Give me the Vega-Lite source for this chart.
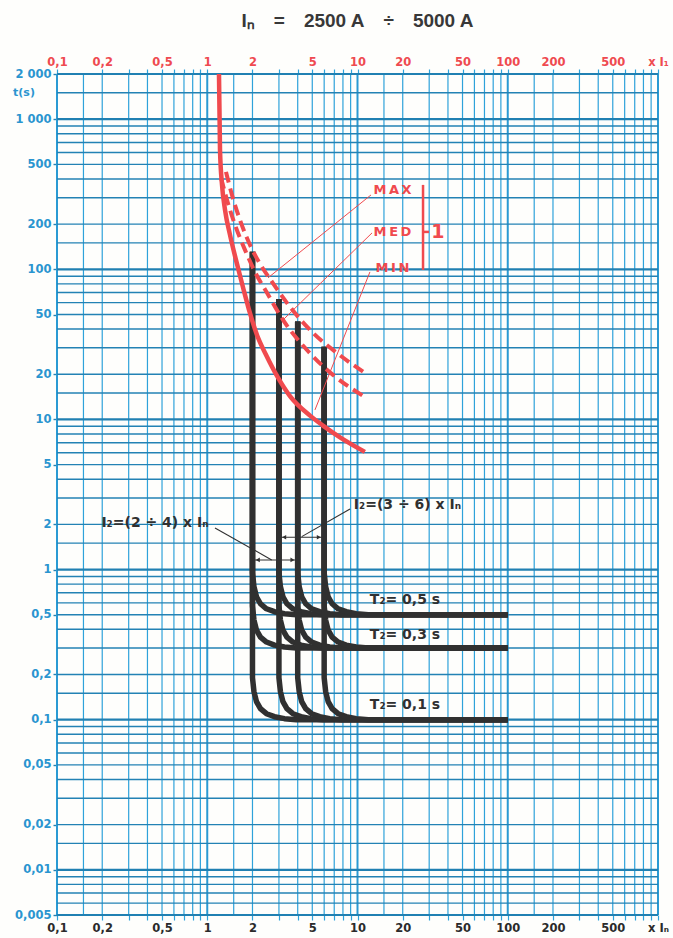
{
  "$schema": "https://vega.github.io/schema/vega-lite/v6.json",
  "width": 601,
  "height": 841,
  "autosize": {"type": "none"},
  "padding": {"left": 57, "top": 74, "right": 15, "bottom": 23},
  "background": "#fefefc",
  "view": {"stroke": null},
  "title": {"text": "Iₙ\u2003=\u20032500 A\u2003÷\u20035000 A", "font": "Liberation Sans", "fontSize": 19, "fontWeight": "bold", "color": "#383838", "offset": 25},
  "datasets": {
    "gx": [{"v":0.15},{"v":0.2},{"v":0.3},{"v":0.4},{"v":0.5},{"v":0.6},{"v":0.7},{"v":0.8},{"v":0.9},{"v":1.5},{"v":2},{"v":3},{"v":4},{"v":5},{"v":6},{"v":7},{"v":8},{"v":9},{"v":15},{"v":20},{"v":30},{"v":40},{"v":50},{"v":60},{"v":70},{"v":80},{"v":90},{"v":150},{"v":200},{"v":300},{"v":400},{"v":500},{"v":600},{"v":700},{"v":800},{"v":900}],
    "gxd": [{"v":0.1},{"v":1},{"v":10},{"v":100},{"v":1000}],
    "gy": [{"v":0.006},{"v":0.007},{"v":0.008},{"v":0.009},{"v":0.015},{"v":0.02},{"v":0.03},{"v":0.04},{"v":0.05},{"v":0.06},{"v":0.07},{"v":0.08},{"v":0.09},{"v":0.15},{"v":0.2},{"v":0.3},{"v":0.4},{"v":0.5},{"v":0.6},{"v":0.7},{"v":0.8},{"v":0.9},{"v":1.5},{"v":2},{"v":3},{"v":4},{"v":5},{"v":6},{"v":7},{"v":8},{"v":9},{"v":15},{"v":20},{"v":30},{"v":40},{"v":50},{"v":60},{"v":70},{"v":80},{"v":90},{"v":150},{"v":200},{"v":300},{"v":400},{"v":500},{"v":600},{"v":700},{"v":800},{"v":900},{"v":1500}],
    "gyd": [{"v":0.005},{"v":0.01},{"v":0.1},{"v":1},{"v":10},{"v":100},{"v":1000},{"v":2000}],
    "black": [
      {"c":"2/0.5","i":0,"x":2,"t":131},{"c":"2/0.5","i":1,"x":2,"t":0.953},{"c":"2/0.5","i":2,"x":2.046,"t":0.769},{"c":"2/0.5","i":3,"x":2.126,"t":0.659},{"c":"2/0.5","i":4,"x":2.26,"t":0.592},{"c":"2/0.5","i":5,"x":2.478,"t":0.548},{"c":"2/0.5","i":6,"x":2.802,"t":0.524},{"c":"2/0.5","i":7,"x":3.266,"t":0.508},{"c":"2/0.5","i":8,"x":3.926,"t":0.5},{"c":"2/0.5","i":9,"x":100,"t":0.5},
      {"c":"2/0.3","i":0,"x":2,"t":131},{"c":"2/0.3","i":1,"x":2,"t":0.572},{"c":"2/0.3","i":2,"x":2.046,"t":0.461},{"c":"2/0.3","i":3,"x":2.126,"t":0.395},{"c":"2/0.3","i":4,"x":2.26,"t":0.355},{"c":"2/0.3","i":5,"x":2.478,"t":0.329},{"c":"2/0.3","i":6,"x":2.802,"t":0.314},{"c":"2/0.3","i":7,"x":3.266,"t":0.305},{"c":"2/0.3","i":8,"x":3.926,"t":0.3},{"c":"2/0.3","i":9,"x":100,"t":0.3},
      {"c":"2/0.1","i":0,"x":2,"t":131},{"c":"2/0.1","i":1,"x":2,"t":0.1905},{"c":"2/0.1","i":2,"x":2.046,"t":0.1537},{"c":"2/0.1","i":3,"x":2.126,"t":0.1318},{"c":"2/0.1","i":4,"x":2.26,"t":0.1184},{"c":"2/0.1","i":5,"x":2.478,"t":0.1096},{"c":"2/0.1","i":6,"x":2.802,"t":0.1047},{"c":"2/0.1","i":7,"x":3.266,"t":0.1016},{"c":"2/0.1","i":8,"x":3.926,"t":0.1},{"c":"2/0.1","i":9,"x":100,"t":0.1},
      {"c":"3/0.5","i":0,"x":3,"t":63.5},{"c":"3/0.5","i":1,"x":3,"t":0.953},{"c":"3/0.5","i":2,"x":3.069,"t":0.769},{"c":"3/0.5","i":3,"x":3.189,"t":0.659},{"c":"3/0.5","i":4,"x":3.39,"t":0.592},{"c":"3/0.5","i":5,"x":3.717,"t":0.548},{"c":"3/0.5","i":6,"x":4.203,"t":0.524},{"c":"3/0.5","i":7,"x":4.899,"t":0.508},{"c":"3/0.5","i":8,"x":5.889,"t":0.5},{"c":"3/0.5","i":9,"x":100,"t":0.5},
      {"c":"3/0.3","i":0,"x":3,"t":63.5},{"c":"3/0.3","i":1,"x":3,"t":0.572},{"c":"3/0.3","i":2,"x":3.069,"t":0.461},{"c":"3/0.3","i":3,"x":3.189,"t":0.395},{"c":"3/0.3","i":4,"x":3.39,"t":0.355},{"c":"3/0.3","i":5,"x":3.717,"t":0.329},{"c":"3/0.3","i":6,"x":4.203,"t":0.314},{"c":"3/0.3","i":7,"x":4.899,"t":0.305},{"c":"3/0.3","i":8,"x":5.889,"t":0.3},{"c":"3/0.3","i":9,"x":100,"t":0.3},
      {"c":"3/0.1","i":0,"x":3,"t":63.5},{"c":"3/0.1","i":1,"x":3,"t":0.1905},{"c":"3/0.1","i":2,"x":3.069,"t":0.1537},{"c":"3/0.1","i":3,"x":3.189,"t":0.1318},{"c":"3/0.1","i":4,"x":3.39,"t":0.1184},{"c":"3/0.1","i":5,"x":3.717,"t":0.1096},{"c":"3/0.1","i":6,"x":4.203,"t":0.1047},{"c":"3/0.1","i":7,"x":4.899,"t":0.1016},{"c":"3/0.1","i":8,"x":5.889,"t":0.1},{"c":"3/0.1","i":9,"x":100,"t":0.1},
      {"c":"4/0.5","i":0,"x":4,"t":45},{"c":"4/0.5","i":1,"x":4,"t":0.953},{"c":"4/0.5","i":2,"x":4.092,"t":0.769},{"c":"4/0.5","i":3,"x":4.252,"t":0.659},{"c":"4/0.5","i":4,"x":4.52,"t":0.592},{"c":"4/0.5","i":5,"x":4.956,"t":0.548},{"c":"4/0.5","i":6,"x":5.604,"t":0.524},{"c":"4/0.5","i":7,"x":6.532,"t":0.508},{"c":"4/0.5","i":8,"x":7.852,"t":0.5},{"c":"4/0.5","i":9,"x":100,"t":0.5},
      {"c":"4/0.3","i":0,"x":4,"t":45},{"c":"4/0.3","i":1,"x":4,"t":0.572},{"c":"4/0.3","i":2,"x":4.092,"t":0.461},{"c":"4/0.3","i":3,"x":4.252,"t":0.395},{"c":"4/0.3","i":4,"x":4.52,"t":0.355},{"c":"4/0.3","i":5,"x":4.956,"t":0.329},{"c":"4/0.3","i":6,"x":5.604,"t":0.314},{"c":"4/0.3","i":7,"x":6.532,"t":0.305},{"c":"4/0.3","i":8,"x":7.852,"t":0.3},{"c":"4/0.3","i":9,"x":100,"t":0.3},
      {"c":"4/0.1","i":0,"x":4,"t":45},{"c":"4/0.1","i":1,"x":4,"t":0.1905},{"c":"4/0.1","i":2,"x":4.092,"t":0.1537},{"c":"4/0.1","i":3,"x":4.252,"t":0.1318},{"c":"4/0.1","i":4,"x":4.52,"t":0.1184},{"c":"4/0.1","i":5,"x":4.956,"t":0.1096},{"c":"4/0.1","i":6,"x":5.604,"t":0.1047},{"c":"4/0.1","i":7,"x":6.532,"t":0.1016},{"c":"4/0.1","i":8,"x":7.852,"t":0.1},{"c":"4/0.1","i":9,"x":100,"t":0.1},
      {"c":"6/0.5","i":0,"x":6,"t":30.5},{"c":"6/0.5","i":1,"x":6,"t":0.953},{"c":"6/0.5","i":2,"x":6.138,"t":0.769},{"c":"6/0.5","i":3,"x":6.378,"t":0.659},{"c":"6/0.5","i":4,"x":6.78,"t":0.592},{"c":"6/0.5","i":5,"x":7.434,"t":0.548},{"c":"6/0.5","i":6,"x":8.406,"t":0.524},{"c":"6/0.5","i":7,"x":9.798,"t":0.508},{"c":"6/0.5","i":8,"x":11.778,"t":0.5},{"c":"6/0.5","i":9,"x":100,"t":0.5},
      {"c":"6/0.3","i":0,"x":6,"t":30.5},{"c":"6/0.3","i":1,"x":6,"t":0.572},{"c":"6/0.3","i":2,"x":6.138,"t":0.461},{"c":"6/0.3","i":3,"x":6.378,"t":0.395},{"c":"6/0.3","i":4,"x":6.78,"t":0.355},{"c":"6/0.3","i":5,"x":7.434,"t":0.329},{"c":"6/0.3","i":6,"x":8.406,"t":0.314},{"c":"6/0.3","i":7,"x":9.798,"t":0.305},{"c":"6/0.3","i":8,"x":11.778,"t":0.3},{"c":"6/0.3","i":9,"x":100,"t":0.3},
      {"c":"6/0.1","i":0,"x":6,"t":30.5},{"c":"6/0.1","i":1,"x":6,"t":0.1905},{"c":"6/0.1","i":2,"x":6.138,"t":0.1537},{"c":"6/0.1","i":3,"x":6.378,"t":0.1318},{"c":"6/0.1","i":4,"x":6.78,"t":0.1184},{"c":"6/0.1","i":5,"x":7.434,"t":0.1096},{"c":"6/0.1","i":6,"x":8.406,"t":0.1047},{"c":"6/0.1","i":7,"x":9.798,"t":0.1016},{"c":"6/0.1","i":8,"x":11.778,"t":0.1},{"c":"6/0.1","i":9,"x":100,"t":0.1}
    ],
    "red": [
      {"s":"MIN","i":0,"x":1.197,"t":2000},{"s":"MIN","i":1,"x":1.216,"t":624},{"s":"MIN","i":2,"x":1.254,"t":365},{"s":"MIN","i":3,"x":1.313,"t":249},{"s":"MIN","i":4,"x":1.417,"t":169.6},{"s":"MIN","i":5,"x":1.553,"t":115.6},{"s":"MIN","i":6,"x":1.729,"t":76},{"s":"MIN","i":7,"x":1.925,"t":51},{"s":"MIN","i":8,"x":2.143,"t":36.5},{"s":"MIN","i":9,"x":2.46,"t":27},{"s":"MIN","i":10,"x":2.957,"t":19},{"s":"MIN","i":11,"x":3.553,"t":14.3},{"s":"MIN","i":12,"x":4.83,"t":10.6},{"s":"MIN","i":13,"x":5.89,"t":9.1},{"s":"MIN","i":14,"x":7.65,"t":7.6},{"s":"MIN","i":15,"x":11.2,"t":6.08},
      {"s":"MED","i":0,"x":1.235,"t":406},{"s":"MED","i":1,"x":1.353,"t":290},{"s":"MED","i":2,"x":1.53,"t":197.7},{"s":"MED","i":3,"x":1.783,"t":134.7},{"s":"MED","i":4,"x":2.078,"t":96.1},{"s":"MED","i":5,"x":2.498,"t":69.7},{"s":"MED","i":6,"x":3.193,"t":46},{"s":"MED","i":7,"x":4.612,"t":29},{"s":"MED","i":8,"x":6.87,"t":19.8},{"s":"MED","i":9,"x":11.2,"t":14.1},
      {"s":"MAX","i":0,"x":1.333,"t":445.7},{"s":"MAX","i":1,"x":1.461,"t":313},{"s":"MAX","i":2,"x":1.652,"t":213},{"s":"MAX","i":3,"x":1.925,"t":145.4},{"s":"MAX","i":4,"x":2.244,"t":108.7},{"s":"MAX","i":5,"x":2.698,"t":82.5},{"s":"MAX","i":6,"x":3.553,"t":56.2},{"s":"MAX","i":7,"x":5.055,"t":37.7},{"s":"MAX","i":8,"x":7.3,"t":27.7},{"s":"MAX","i":9,"x":11.2,"t":20.4}
    ]
  },
  "resolve": {"axis": {"x": "independent", "y": "independent"}},
  "layer": [
    {
      "data": {"name": "gx"},
      "mark": {"type": "rule", "stroke": "#2ea2da", "strokeWidth": 1.2},
      "encoding": {
        "x": {"field": "v", "type": "quantitative", "scale": {"type": "log", "domain": [0.1, 1000], "nice": false},
          "axis": {"orient": "bottom", "title": null, "domain": false, "grid": false, "values": [0.1,0.2,0.3,0.4,0.5,0.6,0.7,0.8,0.9,1,2,3,4,5,6,7,8,9,10,20,30,40,50,60,70,80,90,100,200,300,400,500,600,700,800,900,1000],
            "labelExpr": "datum.value == 1000 ? 'x Iₙ' : indexof([0.1,0.2,0.5,1,2,5,10,20,50,100,200,500], datum.value) >= 0 ? replace(datum.value + '', '.', ',') : ''",
            "tickSize": 5, "tickColor": "#2ea2da", "tickWidth": 1.2, "labelColor": "#2b2b2b", "labelFont": "DejaVu Sans", "labelFontWeight": "bold", "labelFontSize": 11.5, "labelPadding": 2, "labelOverlap": false, "labelFlush": false, "labelBound": false}}
      }
    },
    {
      "data": {"name": "gxd"},
      "mark": {"type": "rule", "stroke": "#2a9ad3", "strokeWidth": 2},
      "encoding": {
        "x": {"field": "v", "type": "quantitative", "scale": {"type": "log", "domain": [0.1, 1000], "nice": false},
          "axis": {"orient": "top", "title": null, "domain": false, "grid": false, "values": [0.1,0.2,0.3,0.4,0.5,0.6,0.7,0.8,0.9,1,2,3,4,5,6,7,8,9,10,20,30,40,50,60,70,80,90,100,200,300,400,500,600,700,800,900,1000],
            "labelExpr": "datum.value == 1000 ? 'x I₁' : indexof([0.1,0.2,0.5,1,2,5,10,20,50,100,200,500], datum.value) >= 0 ? replace(datum.value + '', '.', ',') : ''",
            "tickSize": 5, "tickColor": "#2ea2da", "tickWidth": 1.2, "labelColor": "#ef4a50", "labelFont": "DejaVu Sans", "labelFontWeight": "bold", "labelFontSize": 11.5, "labelPadding": 2, "labelOverlap": false, "labelFlush": false, "labelBound": false}}
      }
    },
    {
      "data": {"name": "gy"},
      "mark": {"type": "rule", "stroke": "#2382b4", "strokeWidth": 1.4},
      "encoding": {
        "y": {"field": "v", "type": "quantitative", "scale": {"type": "log", "domain": [0.005, 2000], "nice": false},
          "axis": {"orient": "left", "title": null, "domain": false, "grid": false, "values": [0.005,0.01,0.02,0.05,0.1,0.2,0.5,1,2,5,10,20,50,100,200,500,1000,2000],
            "labelExpr": "datum.value == 1000 ? '1 000' : datum.value == 2000 ? '2 000' : replace(datum.value + '', '.', ',')",
            "tickSize": 4, "tickColor": "#2382b4", "tickWidth": 1.4, "labelColor": "#2a95d0", "labelFont": "DejaVu Sans", "labelFontWeight": "bold", "labelFontSize": 11.5, "labelPadding": 2, "labelOverlap": false, "labelFlush": false, "labelBound": false}}
      }
    },
    {
      "data": {"name": "gyd"},
      "mark": {"type": "rule", "stroke": "#2080b2", "strokeWidth": 2.2},
      "encoding": {
        "y": {"field": "v", "type": "quantitative", "scale": {"type": "log", "domain": [0.005, 2000], "nice": false}, "axis": null}
      }
    },
    {
      "data": {"name": "black"},
      "mark": {"type": "line", "stroke": "#303030", "strokeWidth": 5.5, "strokeJoin": "round"},
      "encoding": {
        "x": {"field": "x", "type": "quantitative", "scale": {"type": "log", "domain": [0.1, 1000], "nice": false}, "axis": null},
        "y": {"field": "t", "type": "quantitative", "scale": {"type": "log", "domain": [0.005, 2000], "nice": false}, "axis": null},
        "detail": {"field": "c"},
        "order": {"field": "i", "type": "quantitative"}
      }
    },
    {
      "data": {"name": "red"},
      "transform": [{"filter": "datum.s == 'MIN'"}],
      "mark": {"type": "line", "stroke": "#f04a4e", "strokeWidth": 4.5, "interpolate": "monotone"},
      "encoding": {
        "x": {"field": "x", "type": "quantitative", "scale": {"type": "log", "domain": [0.1, 1000], "nice": false}, "axis": null},
        "y": {"field": "t", "type": "quantitative", "scale": {"type": "log", "domain": [0.005, 2000], "nice": false}, "axis": null},
        "order": {"field": "i", "type": "quantitative"}
      }
    },
    {
      "data": {"name": "red"},
      "transform": [{"filter": "datum.s != 'MIN'"}],
      "mark": {"type": "line", "stroke": "#f04a4e", "strokeWidth": 4, "strokeDash": [11, 6], "interpolate": "monotone"},
      "encoding": {
        "x": {"field": "x", "type": "quantitative", "scale": {"type": "log", "domain": [0.1, 1000], "nice": false}, "axis": null},
        "y": {"field": "t", "type": "quantitative", "scale": {"type": "log", "domain": [0.005, 2000], "nice": false}, "axis": null},
        "detail": {"field": "s"},
        "order": {"field": "i", "type": "quantitative"}
      }
    },
    {
      "data": {"values": [
        {"x": 12.3, "t": 313, "x2": 2.537, "t2": 87.7},
        {"x": 12.5, "t": 174.8, "x2": 3.193, "t2": 46},
        {"x": 12.1, "t": 96.1, "x2": 5.21, "t2": 11.57}
      ]},
      "mark": {"type": "rule", "stroke": "#f04a4e", "strokeWidth": 1},
      "encoding": {
        "x": {"field": "x", "type": "quantitative", "scale": {"type": "log", "domain": [0.1, 1000], "nice": false}, "axis": null},
        "y": {"field": "t", "type": "quantitative", "scale": {"type": "log", "domain": [0.005, 2000], "nice": false}, "axis": null},
        "x2": {"field": "x2"},
        "y2": {"field": "t2"}
      }
    },
    {
      "data": {"values": [
        {"x": 27.3, "t": 365, "x2": 27.3, "t2": 99.1},
        {"x": 27.3, "t": 177.5, "x2": 29.9, "t2": 177.5}
      ]},
      "mark": {"type": "rule", "stroke": "#f04a4e", "strokeWidth": 2.5},
      "encoding": {
        "x": {"field": "x", "type": "quantitative", "scale": {"type": "log", "domain": [0.1, 1000], "nice": false}, "axis": null},
        "y": {"field": "t", "type": "quantitative", "scale": {"type": "log", "domain": [0.005, 2000], "nice": false}, "axis": null},
        "x2": {"field": "x2"},
        "y2": {"field": "t2"}
      }
    },
    {
      "data": {"values": [
        {"x": 17.1, "t": 338, "label": "M\u2009A\u2009X"},
        {"x": 17.1, "t": 177.5, "label": "M\u2009E\u2009D"},
        {"x": 17.1, "t": 102, "label": "M\u2009I\u2009N"}
      ]},
      "mark": {"type": "text", "color": "#f04a4e", "font": "DejaVu Sans", "fontWeight": "bold", "fontSize": 13, "align": "center", "baseline": "middle"},
      "encoding": {
        "x": {"field": "x", "type": "quantitative", "scale": {"type": "log", "domain": [0.1, 1000], "nice": false}, "axis": null},
        "y": {"field": "t", "type": "quantitative", "scale": {"type": "log", "domain": [0.005, 2000], "nice": false}, "axis": null},
        "text": {"field": "label"}
      }
    },
    {
      "data": {"values": [{"x": 34.3, "t": 177.5, "label": "1"}]},
      "mark": {"type": "text", "color": "#f04a4e", "font": "DejaVu Sans", "fontWeight": "bold", "fontSize": 19, "align": "center", "baseline": "middle"},
      "encoding": {
        "x": {"field": "x", "type": "quantitative", "scale": {"type": "log", "domain": [0.1, 1000], "nice": false}, "axis": null},
        "y": {"field": "t", "type": "quantitative", "scale": {"type": "log", "domain": [0.005, 2000], "nice": false}, "axis": null},
        "text": {"field": "label"}
      }
    },
    {
      "data": {"values": [
        {"x": 1.126, "t": 1.893, "x2": 2.685, "t2": 1.159},
        {"x": 2, "t": 1.159, "x2": 4, "t2": 1.159},
        {"x": 8.92, "t": 2.535, "x2": 4.253, "t2": 1.657},
        {"x": 3, "t": 1.641, "x2": 6, "t2": 1.641}
      ]},
      "mark": {"type": "rule", "stroke": "#303030", "strokeWidth": 1.1},
      "encoding": {
        "x": {"field": "x", "type": "quantitative", "scale": {"type": "log", "domain": [0.1, 1000], "nice": false}, "axis": null},
        "y": {"field": "t", "type": "quantitative", "scale": {"type": "log", "domain": [0.005, 2000], "nice": false}, "axis": null},
        "x2": {"field": "x2"},
        "y2": {"field": "t2"}
      }
    },
    {
      "data": {"values": [{"x": 2.17, "t": 1.159}, {"x": 3.25, "t": 1.641}]},
      "mark": {"type": "point", "shape": "triangle-left", "filled": true, "color": "#303030", "size": 22, "opacity": 1},
      "encoding": {
        "x": {"field": "x", "type": "quantitative", "scale": {"type": "log", "domain": [0.1, 1000], "nice": false}, "axis": null},
        "y": {"field": "t", "type": "quantitative", "scale": {"type": "log", "domain": [0.005, 2000], "nice": false}, "axis": null}
      }
    },
    {
      "data": {"values": [{"x": 3.69, "t": 1.159}, {"x": 5.53, "t": 1.641}]},
      "mark": {"type": "point", "shape": "triangle-right", "filled": true, "color": "#303030", "size": 22, "opacity": 1},
      "encoding": {
        "x": {"field": "x", "type": "quantitative", "scale": {"type": "log", "domain": [0.1, 1000], "nice": false}, "axis": null},
        "y": {"field": "t", "type": "quantitative", "scale": {"type": "log", "domain": [0.005, 2000], "nice": false}, "axis": null}
      }
    },
    {
      "data": {"values": [
        {"x": 0.449, "t": 2.045, "label": "I₂=(2 ÷ 4) x Iₙ"},
        {"x": 21.5, "t": 2.695, "label": "I₂=(3 ÷ 6) x Iₙ"},
        {"x": 20.7, "t": 0.627, "label": "T₂= 0,5 s"},
        {"x": 20.7, "t": 0.3667, "label": "T₂= 0,3 s"},
        {"x": 20.7, "t": 0.1253, "label": "T₂= 0,1 s"}
      ]},
      "mark": {"type": "text", "color": "#303030", "font": "DejaVu Sans", "fontWeight": "bold", "fontSize": 14, "align": "center", "baseline": "middle"},
      "encoding": {
        "x": {"field": "x", "type": "quantitative", "scale": {"type": "log", "domain": [0.1, 1000], "nice": false}, "axis": null},
        "y": {"field": "t", "type": "quantitative", "scale": {"type": "log", "domain": [0.005, 2000], "nice": false}, "axis": null},
        "text": {"field": "label"}
      }
    },
    {
      "data": {"values": [{"x": 0.051, "t": 1500, "label": "t(s)"}]},
      "mark": {"type": "text", "color": "#2a95d0", "font": "DejaVu Sans", "fontWeight": "bold", "fontSize": 11, "align": "left", "baseline": "middle"},
      "encoding": {
        "x": {"field": "x", "type": "quantitative", "scale": {"type": "log", "domain": [0.1, 1000], "nice": false}, "axis": null},
        "y": {"field": "t", "type": "quantitative", "scale": {"type": "log", "domain": [0.005, 2000], "nice": false}, "axis": null},
        "text": {"field": "label"}
      }
    }
  ]
}
